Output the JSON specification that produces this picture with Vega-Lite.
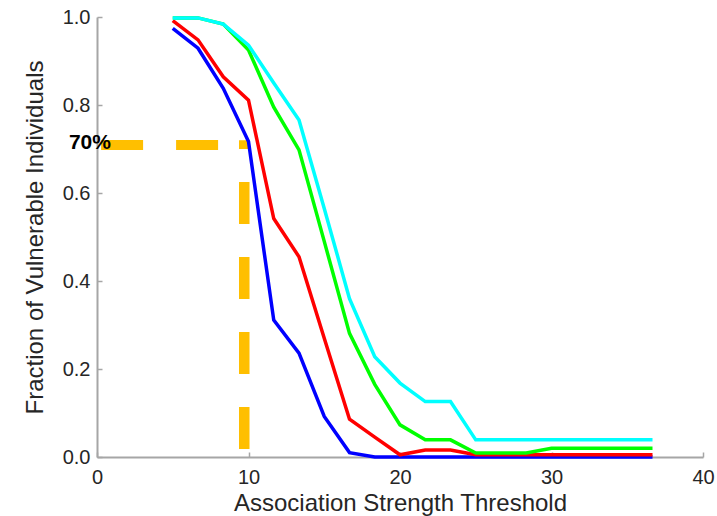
{
  "$schema": "https://vega.github.io/schema/vega-lite/v6.json",
  "width": 606,
  "height": 440,
  "autosize": "none",
  "padding": {"left": 97, "top": 17, "right": 14, "bottom": 59},
  "background": "white",
  "config": {
    "view": {"stroke": null},
    "font": "Liberation Sans",
    "axis": {
      "grid": false,
      "domainColor": "#a6a6a6",
      "domainWidth": 2,
      "tickColor": "#a6a6a6",
      "tickWidth": 1.5,
      "tickSize": -5,
      "labelFont": "Liberation Sans",
      "labelFontSize": 20,
      "labelColor": "#262626",
      "titleFont": "Liberation Sans",
      "titleFontSize": 24,
      "titleFontWeight": "normal",
      "titleColor": "#262626"
    }
  },
  "datasets": {
    "curves": [
      {"x": 5, "y": 0.974, "s": "s1"}, {"x": 6.667, "y": 0.929, "s": "s1"}, {"x": 8.333, "y": 0.838, "s": "s1"}, {"x": 10, "y": 0.717, "s": "s1"},
      {"x": 11.667, "y": 0.311, "s": "s1"}, {"x": 13.333, "y": 0.236, "s": "s1"}, {"x": 15, "y": 0.092, "s": "s1"}, {"x": 16.667, "y": 0.01, "s": "s1"},
      {"x": 18.333, "y": 0.0, "s": "s1"}, {"x": 20, "y": 0.0, "s": "s1"}, {"x": 21.667, "y": 0.0, "s": "s1"}, {"x": 23.333, "y": 0.0, "s": "s1"},
      {"x": 25, "y": 0.0, "s": "s1"}, {"x": 26.667, "y": 0.0, "s": "s1"}, {"x": 28.333, "y": 0.0, "s": "s1"}, {"x": 30, "y": 0.0, "s": "s1"},
      {"x": 31.667, "y": 0.0, "s": "s1"}, {"x": 33.333, "y": 0.0, "s": "s1"}, {"x": 35, "y": 0.0, "s": "s1"}, {"x": 36.667, "y": 0.0, "s": "s1"},

      {"x": 5, "y": 0.992, "s": "s2"}, {"x": 6.667, "y": 0.948, "s": "s2"}, {"x": 8.333, "y": 0.864, "s": "s2"}, {"x": 10, "y": 0.811, "s": "s2"},
      {"x": 11.667, "y": 0.542, "s": "s2"}, {"x": 13.333, "y": 0.455, "s": "s2"}, {"x": 15, "y": 0.27, "s": "s2"}, {"x": 16.667, "y": 0.086, "s": "s2"},
      {"x": 18.333, "y": 0.045, "s": "s2"}, {"x": 20, "y": 0.005, "s": "s2"}, {"x": 21.667, "y": 0.016, "s": "s2"}, {"x": 23.333, "y": 0.016, "s": "s2"},
      {"x": 25, "y": 0.005, "s": "s2"}, {"x": 26.667, "y": 0.005, "s": "s2"}, {"x": 28.333, "y": 0.005, "s": "s2"}, {"x": 30, "y": 0.005, "s": "s2"},
      {"x": 31.667, "y": 0.005, "s": "s2"}, {"x": 33.333, "y": 0.005, "s": "s2"}, {"x": 35, "y": 0.005, "s": "s2"}, {"x": 36.667, "y": 0.005, "s": "s2"},

      {"x": 5, "y": 0.998, "s": "s3"}, {"x": 6.667, "y": 0.998, "s": "s3"}, {"x": 8.333, "y": 0.984, "s": "s3"}, {"x": 10, "y": 0.925, "s": "s3"},
      {"x": 11.667, "y": 0.795, "s": "s3"}, {"x": 13.333, "y": 0.698, "s": "s3"}, {"x": 15, "y": 0.49, "s": "s3"}, {"x": 16.667, "y": 0.281, "s": "s3"},
      {"x": 18.333, "y": 0.165, "s": "s3"}, {"x": 20, "y": 0.073, "s": "s3"}, {"x": 21.667, "y": 0.039, "s": "s3"}, {"x": 23.333, "y": 0.039, "s": "s3"},
      {"x": 25, "y": 0.009, "s": "s3"}, {"x": 26.667, "y": 0.009, "s": "s3"}, {"x": 28.333, "y": 0.009, "s": "s3"}, {"x": 30, "y": 0.02, "s": "s3"},
      {"x": 31.667, "y": 0.02, "s": "s3"}, {"x": 33.333, "y": 0.02, "s": "s3"}, {"x": 35, "y": 0.02, "s": "s3"}, {"x": 36.667, "y": 0.02, "s": "s3"},

      {"x": 5, "y": 0.998, "s": "s4"}, {"x": 6.667, "y": 0.998, "s": "s4"}, {"x": 8.333, "y": 0.984, "s": "s4"}, {"x": 10, "y": 0.936, "s": "s4"},
      {"x": 11.667, "y": 0.85, "s": "s4"}, {"x": 13.333, "y": 0.766, "s": "s4"}, {"x": 15, "y": 0.565, "s": "s4"}, {"x": 16.667, "y": 0.36, "s": "s4"},
      {"x": 18.333, "y": 0.228, "s": "s4"}, {"x": 20, "y": 0.168, "s": "s4"}, {"x": 21.667, "y": 0.126, "s": "s4"}, {"x": 23.333, "y": 0.126, "s": "s4"},
      {"x": 25, "y": 0.039, "s": "s4"}, {"x": 26.667, "y": 0.039, "s": "s4"}, {"x": 28.333, "y": 0.039, "s": "s4"}, {"x": 30, "y": 0.039, "s": "s4"},
      {"x": 31.667, "y": 0.039, "s": "s4"}, {"x": 33.333, "y": 0.039, "s": "s4"}, {"x": 35, "y": 0.039, "s": "s4"}, {"x": 36.667, "y": 0.039, "s": "s4"}
    ],
    "hguide": [{"x": 0.27, "x2": 9.37, "y": 0.709}],
    "vguide": [{"x": 9.72, "y": 0.018, "y2": 0.72}],
    "label": [{"x": 0.92, "y": 0.7, "text": "70%"}]
  },
  "encoding": {
    "x": {"type": "quantitative"},
    "y": {"type": "quantitative"}
  },
  "layer": [
    {
      "data": {"name": "hguide"},
      "mark": {"type": "rule", "color": "#FFBF00", "strokeWidth": 10, "strokeDash": [42, 33], "strokeCap": "butt"},
      "encoding": {
        "x": {"field": "x", "type": "quantitative", "scale": {"domain": [0, 40], "nice": false},
              "axis": {"title": "Association Strength Threshold", "values": [0, 10, 20, 30, 40], "labelPadding": 15, "titlePadding": 4, "labelFlush": false}},
        "x2": {"field": "x2"},
        "y": {"field": "y", "type": "quantitative", "scale": {"domain": [0, 1], "nice": false},
              "axis": {"title": "Fraction of Vulnerable Individuals", "values": [0, 0.2, 0.4, 0.6, 0.8, 1.0], "format": ".1f", "labelPadding": 12, "titlePadding": 15, "labelFlush": false}}
      }
    },
    {
      "data": {"name": "vguide"},
      "mark": {"type": "rule", "color": "#FFBF00", "strokeWidth": 10.5, "strokeDash": [42, 33], "strokeCap": "butt"},
      "encoding": {
        "x": {"field": "x", "type": "quantitative"},
        "y": {"field": "y", "type": "quantitative"},
        "y2": {"field": "y2"}
      }
    },
    {
      "data": {"name": "curves"},
      "mark": {"type": "line", "strokeWidth": 3.5, "strokeJoin": "miter", "clip": false},
      "encoding": {
        "x": {"field": "x", "type": "quantitative"},
        "y": {"field": "y", "type": "quantitative"},
        "color": {"field": "s", "type": "nominal", "legend": null,
                  "scale": {"domain": ["s1", "s2", "s3", "s4"], "range": ["#0000FF", "#FF0000", "#00FF00", "#00FFFF"]}}
      }
    },
    {
      "data": {"name": "label"},
      "mark": {"type": "text", "fontWeight": "bold", "fontSize": 21, "align": "right", "baseline": "alphabetic", "color": "#000000", "font": "Liberation Sans"},
      "encoding": {
        "x": {"field": "x", "type": "quantitative"},
        "y": {"field": "y", "type": "quantitative"},
        "text": {"field": "text"}
      }
    }
  ]
}
